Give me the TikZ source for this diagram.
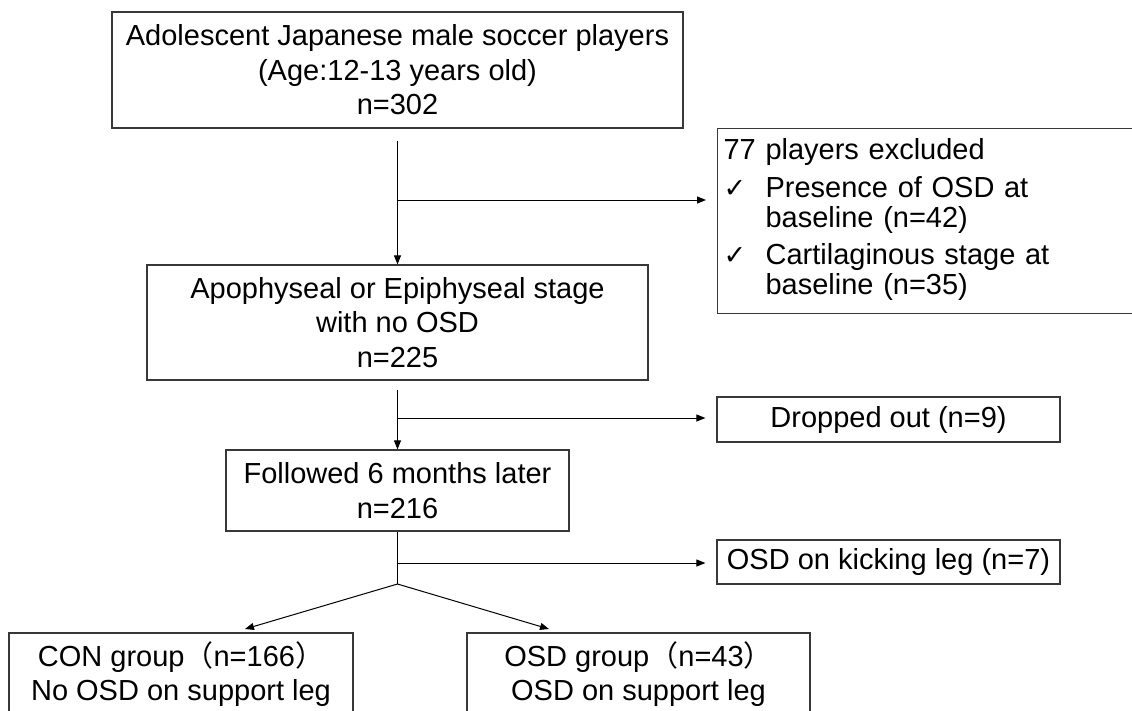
\documentclass[tikz,border=0pt]{standalone}
\usepackage{fontspec}
\setmainfont{Liberation Sans}
\newfontfamily\jpfont{Noto Sans CJK JP}
\newfontfamily\symfont{DejaVu Sans}
\usetikzlibrary{arrows.meta}
\newcommand{\chk}{{\symfont\fontsize{27}{27}\selectfont ✓}}
\newcommand{\lp}{{\jpfont （}}
\newcommand{\rp}{{\jpfont ）}}
\tikzset{
  flowbox/.style={draw=black!78, line width=1.2pt, align=center, inner sep=0pt,
    font=\fontsize{29}{34.5}\selectfont},
  flowarrow/.style={line width=1pt, -{Triangle[length=9pt,width=7pt]}}
}
\begin{document}
\begin{tikzpicture}[x=1pt,y=-1pt]
\clip (0,0) rectangle (1132,710);
\node[flowbox, minimum width=571pt, minimum height=116pt] (players) at (397.5,70) {Adolescent Japanese male soccer players\\(Age:12-13 years old)\\n=302};
\node[flowbox, anchor=north west, minimum height=185pt, text width=438pt, inner xsep=6pt, align=left,
  font=\fontsize{29}{29}\selectfont] (excl) at (717,128) {\begin{tabular}{@{}l@{}l@{}}
\multicolumn{2}{@{}l@{}}{77 players excluded}\\[8pt]
\makebox[42pt][l]{\chk} & Presence of OSD at\\
 & baseline (n=42)\\[8pt]
\makebox[42pt][l]{\chk} & Cartilaginous stage at\\
 & baseline (n=35)
\end{tabular}};
\node[flowbox, minimum width=501pt, minimum height=115pt] (stage) at (397.5,322.5) {Apophyseal or Epiphyseal stage\\with no OSD\\n=225};
\node[flowbox, minimum width=343pt, minimum height=45pt] (dropped) at (888.5,419.5) {Dropped out (n=9)};
\node[flowbox, minimum width=343pt, minimum height=81pt] (follow) at (397.5,490.5) {Followed 6 months later\\n=216};
\node[flowbox, minimum width=343pt, minimum height=44pt] (kicking) at (888.5,562) {OSD on kicking leg (n=7)};
\node[flowbox, minimum width=344pt, minimum height=82pt] (con) at (181,674) {CON group\lp n=166\rp\\No OSD on support leg};
\node[flowbox, minimum width=343pt, minimum height=82pt] (osd) at (638.5,674) {OSD group\lp n=43\rp\\OSD on support leg};

% branch points on the main line
\coordinate (cut1) at (397.5,200);
\coordinate (cut2) at (397.5,418);
\coordinate (cut3) at (397.5,563);
\coordinate (split) at (397.5,584);
\coordinate (conend) at (245,629);
\coordinate (osdend) at (549,629);

\draw[flowarrow] ([yshift=-12pt]players.south) -- (stage.north);
\draw[flowarrow, shorten >=11pt] (cut1) -- (cut1 -| excl.west);
\draw[flowarrow] ([yshift=-9pt]stage.south) -- (follow.north);
\draw[flowarrow, shorten >=11pt] (cut2) -- (cut2 -| dropped.west);
\draw[line width=1pt] (follow.south) -- (split);
\draw[flowarrow, shorten >=11pt] (cut3) -- (cut3 -| kicking.west);
\draw[flowarrow] (split) -- (conend);
\draw[flowarrow] (split) -- (osdend);
\end{tikzpicture}
\end{document}
